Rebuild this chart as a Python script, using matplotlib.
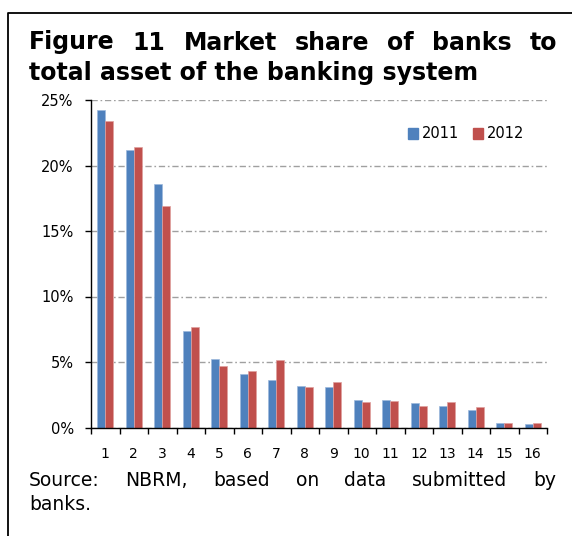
import numpy as np
import matplotlib
matplotlib.use("Agg")
import matplotlib.pyplot as plt
import matplotlib.patches as mpatches
from matplotlib.ticker import FixedLocator, FuncFormatter, NullFormatter

plt.rcParams["font.family"] = ["DejaVu Sans"]

# ── data: share of each bank in total banking-system assets (%) ──────────────
banks = [str(i) for i in range(1, 17)]
share_2011 = [24.2, 21.2, 18.6, 7.4, 5.2, 4.1, 3.6, 3.2, 3.1, 2.1, 2.1, 1.85, 1.65, 1.3, 0.35, 0.25]
share_2012 = [23.4, 21.4, 16.9, 7.7, 4.7, 4.3, 5.15, 3.1, 3.45, 1.95, 2.05, 1.65, 1.95, 1.55, 0.35, 0.35]
years = ["2011", "2012"]
y_ticks = [0, 5, 10, 15, 20, 25]

BLUE = "#4F81BD"
RED = "#C0504D"

W, H = 572, 536
fig = plt.figure(figsize=(W / 100, H / 100), dpi=100)
fig.patch.set_facecolor("white")


def px(x, y):
    """pixel coords (origin top-left) -> figure fraction"""
    return x / W, 1 - y / H


# ── plot area ─────────────────────────────────────────────────────────────────
left, top = px(91, 100)
right, bottom = px(547, 427.5)
ax = fig.add_axes([left, bottom, right - left, top - bottom])

x = np.arange(1, len(banks) + 1)
bw = 0.28
ax.bar(x - bw / 2, share_2011, width=bw, color=BLUE, edgecolor="#9DB9DC",
       linewidth=0.5, zorder=3)
ax.bar(x + bw / 2, share_2012, width=bw, color=RED, edgecolor="#DFA09F",
       linewidth=0.5, zorder=3)

ax.set_xlim(0.5, len(banks) + 0.5)
ax.set_ylim(0, 25)

for s in ["top", "right"]:
    ax.spines[s].set_visible(False)
for s in ["left", "bottom"]:
    ax.spines[s].set_color("black")
    ax.spines[s].set_linewidth(1.0)
    ax.spines[s].set_zorder(4)

# y axis: percent labels + dash-dot gridlines
ax.yaxis.set_major_locator(FixedLocator(y_ticks))
ax.yaxis.set_major_formatter(FuncFormatter(lambda v, p: f"{v:.0f}%"))
ax.tick_params(axis="y", which="major", direction="out", length=4.3,
               width=1.0, pad=8.2, labelsize=10.5, colors="black")
ax.yaxis.grid(True, color="#A0A0A0", linewidth=1.0,
              linestyle=(0, (4.5, 2, 1.2, 2)), zorder=0)

# x axis: tick marks between categories, labels centred under each group
ax.xaxis.set_major_locator(FixedLocator(np.arange(0.5, len(banks) + 1, 1)))
ax.xaxis.set_major_formatter(NullFormatter())
ax.xaxis.set_minor_locator(FixedLocator(x))
ax.xaxis.set_minor_formatter(FuncFormatter(lambda v, p: banks[int(round(v)) - 1]))
ax.tick_params(axis="x", which="major", direction="out", length=4.6, width=1.0)
ax.tick_params(axis="x", which="minor", length=0, pad=14.2, labelsize=10)

# legend
handles = [mpatches.Patch(color=BLUE, label=years[0]),
           mpatches.Patch(color=RED, label=years[1])]
lx, ly = px(466, 134)
ax.legend(handles=handles, loc="center", bbox_to_anchor=(lx, ly),
          bbox_transform=fig.transFigure, ncol=2, frameon=False,
          fontsize=10.5, handlelength=0.75, handleheight=0.8,
          handletextpad=0.25, columnspacing=0.9)

# ── frame lines (left and top) ───────────────────────────────────────────────
fx0, fy0 = px(8, H)
fx1, fy1 = px(8, 12.7)
fx2, _ = px(W, 12.7)
fig.add_artist(plt.Line2D([fx0, fx1, fx2], [fy0, fy1, fy1], color="black",
                          linewidth=1.3, transform=fig.transFigure))

# ── justified text helpers ───────────────────────────────────────────────────
renderer = fig.canvas.get_renderer()


def justified_line(words, x0, x1, ybase, **kw):
    arts = [fig.text(0, 0, w, va="baseline", ha="left", **kw) for w in words]
    widths = [a.get_window_extent(renderer).width for a in arts]
    gap = (x1 - x0 - sum(widths)) / (len(words) - 1)
    cur = x0
    for a, w in zip(arts, widths):
        a.set_position(px(cur, ybase))
        cur += w + gap


title_kw = dict(fontsize=17, fontweight="bold", color="black")
justified_line("Figure 11 Market share of banks to".split(), 29, 557, 49.5, **title_kw)
fig.text(*px(29, 80), "total asset of the banking system", va="baseline",
         ha="left", **title_kw)

src_kw = dict(fontsize=13.5, color="black")
justified_line("Source: NBRM, based on data submitted by".split(), 29, 556, 486, **src_kw)
fig.text(*px(29, 510), "banks.", va="baseline", ha="left", **src_kw)

fig.savefig("out.png", dpi=100, facecolor="white")
